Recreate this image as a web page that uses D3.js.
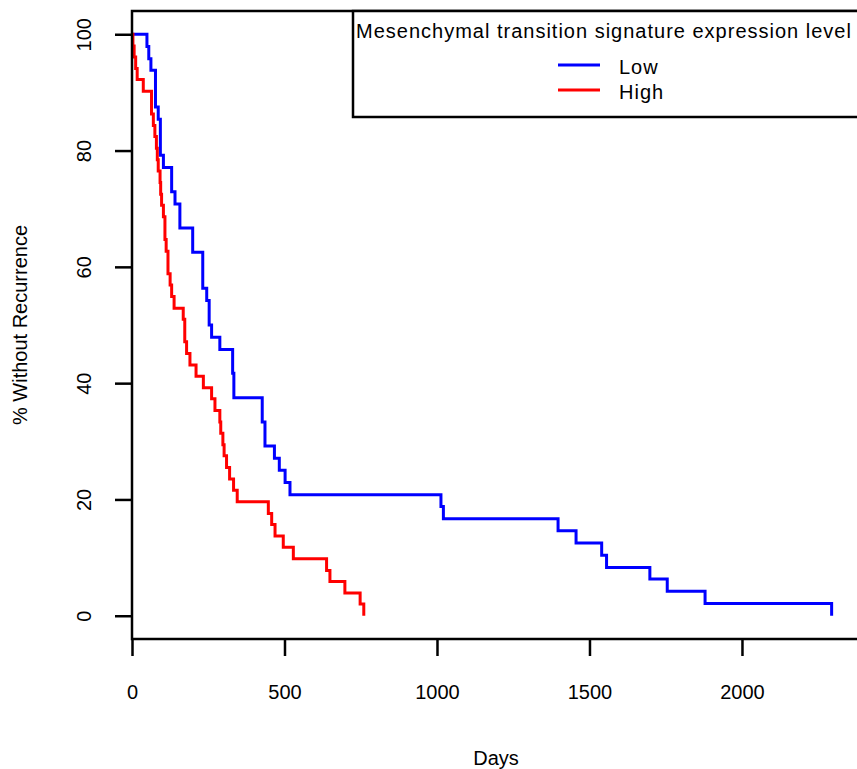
<!DOCTYPE html>
<html>
<head>
<meta charset="utf-8">
<script src="https://cdn.jsdelivr.net/npm/d3@7"></script>
<style>
  body { margin: 0; background: #fff; }
  svg { display: block; }
  text { font-family: "Liberation Sans", Arial, sans-serif; font-size: 20px; fill: #000; }
</style>
</head>
<body>
<div id="chart"></div>
<script>
// Kaplan-Meier steps (day, % without recurrence)
var lowDays = [0, 49, 55, 62, 77, 86, 93, 103, 130, 141, 157, 199, 232, 245, 253, 261, 288, 330, 334, 427, 436,
    467, 483, 502, 518, 1013, 1021, 1397, 1456, 1540, 1556, 1698, 1755, 1879, 2294];
var lowPct = [100, 97.9, 95.8, 93.8, 87.5, 85.4, 79.2, 77.1, 72.9, 70.8, 66.7, 62.5, 56.3, 54.2, 50.0, 47.9, 45.8, 41.7, 37.5, 33.3, 29.2,
    27.1, 25.0, 22.9, 20.8, 18.8, 16.7, 14.6, 12.5, 10.4, 8.3, 6.3, 4.2, 2.1, 0];

var highDays = [0, 3, 7, 12, 17, 37, 64, 70, 75, 80, 83, 86, 92, 94, 97, 103, 108, 112, 118, 125,
    130, 138, 168, 173, 179, 190, 210, 234, 261, 272, 288, 291, 298, 302, 310, 320, 333, 345, 447, 458,
    469, 496, 529, 638, 649, 698, 748, 760];
var highPct = [100, 98.0, 96.1, 94.1, 92.2, 90.2, 86.3, 84.3, 82.4, 80.4, 78.4, 76.5, 74.5, 72.5, 70.6, 68.6, 64.7, 62.7, 58.8, 56.9,
    54.9, 52.9, 51.0, 47.1, 45.1, 43.1, 41.2, 39.2, 37.3, 35.3, 33.3, 31.4, 29.4, 27.5, 25.5, 23.5, 21.6, 19.6, 17.6, 15.7,
    13.7, 11.8, 9.8, 7.8, 5.9, 3.9, 2.0, 0];

var xTicks = [0, 500, 1000, 1500, 2000];
var yTicks = [0, 20, 40, 60, 80, 100];
var groups = ["Low", "High"];
var colors = ["#0000ff", "#ff0000"];
var legendTitle = "Mesenchymal transition signature expression level";

var width = 857, height = 769;
var plotLeft = 132, plotRight = 860, plotTop = 11, plotBottom = 639;

var svg = d3.select("#chart").append("svg")
    .attr("width", width)
    .attr("height", height);

var x = d3.scaleLinear().domain([0, 2387]).range([plotLeft, plotRight]);
var y = d3.scaleLinear().domain([-4, 104]).range([plotBottom, plotTop]);

// curves
var line = d3.line()
    .x(function(d) { return x(d[0]); })
    .y(function(d) { return y(d[1]); })
    .curve(d3.curveStepAfter);

var series = [d3.zip(lowDays, lowPct), d3.zip(highDays, highPct)];

svg.append("g").selectAll("path")
    .data(series)
    .enter()
    .append("path")
    .attr("d", line)
    .attr("fill", "none")
    .attr("stroke", function(d, i) { return colors[i]; })
    .attr("stroke-width", 3);

// axes
var xAxis = svg.append("g")
    .attr("transform", "translate(0," + plotBottom + ")")
    .call(d3.axisBottom(x).tickValues(xTicks).tickSize(17).tickFormat(d3.format("d")));
xAxis.select(".domain").remove();
xAxis.selectAll("line").attr("stroke", "#000").attr("stroke-width", 2.5);
xAxis.selectAll("text")
    .attr("y", 60)
    .attr("dy", 0)
    .attr("font-family", null)
    .attr("font-size", null);

var yAxis = svg.append("g")
    .attr("transform", "translate(" + plotLeft + ",0)")
    .call(d3.axisLeft(y).tickValues(yTicks).tickSize(17));
yAxis.select(".domain").remove();
yAxis.selectAll("line").attr("stroke", "#000").attr("stroke-width", 2.5);
yAxis.selectAll("text")
    .attr("transform", "rotate(-90)")
    .attr("x", 0)
    .attr("y", -41)
    .attr("dy", 0)
    .attr("text-anchor", "middle")
    .attr("font-family", null)
    .attr("font-size", null);

// plot frame
svg.append("rect")
    .attr("x", plotLeft)
    .attr("y", plotTop)
    .attr("width", plotRight - plotLeft)
    .attr("height", plotBottom - plotTop)
    .attr("fill", "none")
    .attr("stroke", "#000")
    .attr("stroke-width", 2.5);

// axis titles
svg.append("text")
    .attr("x", (plotLeft + plotRight) / 2)
    .attr("y", 765)
    .attr("text-anchor", "middle")
    .text("Days");

svg.append("text")
    .attr("transform", "translate(27," + (plotTop + plotBottom) / 2 + ") rotate(-90)")
    .attr("text-anchor", "middle")
    .text("% Without Recurrence");

// legend
var legend = svg.append("g");
legend.append("rect")
    .attr("x", 353)
    .attr("y", plotTop)
    .attr("width", plotRight - 353)
    .attr("height", 106)
    .attr("fill", "#fff")
    .attr("stroke", "#000")
    .attr("stroke-width", 2.5);

legend.append("text")
    .attr("x", 356)
    .attr("y", 38)
    .attr("letter-spacing", 1)
    .text(legendTitle);

var item = legend.selectAll(".item")
    .data(groups)
    .enter()
    .append("g")
    .attr("class", "item")
    .attr("transform", function(d, i) { return "translate(0," + (65 + i * 25) + ")"; });

item.append("line")
    .attr("x1", 558)
    .attr("x2", 600)
    .attr("stroke", function(d, i) { return colors[i]; })
    .attr("stroke-width", 3);

item.append("text")
    .attr("x", 619)
    .attr("y", 9)
    .attr("letter-spacing", 1)
    .text(function(d) { return d; });
</script>
</body>
</html>
